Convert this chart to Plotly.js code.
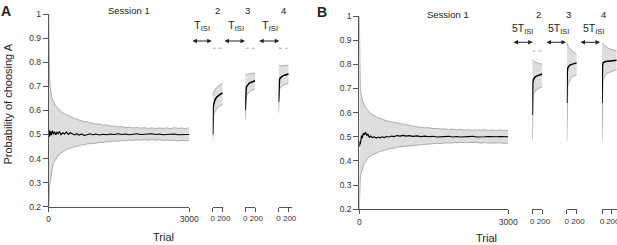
<!DOCTYPE html>
<html><head><meta charset="utf-8">
<script src="https://cdn.plot.ly/plotly-3.0.1.min.js"></script>
<style>html,body{margin:0;padding:0;background:#fff}#c{width:617px;height:245px}</style>
</head><body><div id="c"></div>
<script>
// ---------- DATA ----------
const s1Trials = [0,5,10,20,30,45,60,80,100,125,150,175,200,230,260,300,340,380,420,460,500,550,600,650,700,760,820,880,940,1000,1080,1160,1240,1320,1400,1480,1560,1640,1720,1800,1880,1960,2040,2120,2200,2280,2360,2440,2520,2600,2680,2760,2840,2920,3000];
const A1upper = [1.0,0.84,0.78,0.74,0.70,0.675,0.66,0.645,0.636,0.63,0.618,0.614,0.606,0.603,0.594,0.59,0.586,0.581,0.579,0.572,0.57,0.566,0.563,0.56,0.558,0.553,0.553,0.548,0.547,0.543,0.543,0.538,0.539,0.534,0.535,0.531,0.533,0.529,0.530,0.527,0.529,0.526,0.528,0.525,0.527,0.524,0.527,0.525,0.527,0.524,0.528,0.525,0.527,0.524,0.528];
const A1lower = [0.2,0.25,0.27,0.285,0.30,0.325,0.345,0.362,0.38,0.388,0.398,0.402,0.412,0.415,0.424,0.427,0.433,0.436,0.441,0.442,0.447,0.448,0.452,0.453,0.457,0.457,0.461,0.461,0.464,0.463,0.467,0.466,0.47,0.469,0.473,0.471,0.475,0.473,0.477,0.475,0.478,0.476,0.478,0.476,0.479,0.476,0.478,0.475,0.477,0.474,0.476,0.473,0.475,0.473,0.474];
const A1mean = [0.50,0.52,0.49,0.515,0.495,0.512,0.497,0.516,0.501,0.511,0.498,0.509,0.503,0.512,0.499,0.507,0.502,0.51,0.5,0.507,0.503,0.498,0.503,0.497,0.502,0.496,0.499,0.503,0.499,0.502,0.498,0.501,0.499,0.502,0.5,0.503,0.5,0.502,0.499,0.501,0.503,0.5,0.502,0.501,0.503,0.5,0.502,0.499,0.501,0.5,0.502,0.499,0.501,0.5,0.5];
const B1upper = [1.0,0.78,0.73,0.70,0.685,0.66,0.652,0.64,0.628,0.622,0.614,0.607,0.602,0.596,0.592,0.587,0.583,0.578,0.577,0.572,0.57,0.566,0.564,0.56,0.559,0.555,0.553,0.55,0.549,0.546,0.545,0.541,0.54,0.537,0.538,0.534,0.535,0.532,0.533,0.53,0.532,0.529,0.531,0.528,0.53,0.527,0.529,0.527,0.529,0.526,0.528,0.526,0.528,0.525,0.527];
const B1lower = [0.2,0.26,0.3,0.33,0.345,0.355,0.365,0.378,0.39,0.397,0.405,0.41,0.418,0.42,0.426,0.428,0.433,0.435,0.44,0.441,0.445,0.447,0.45,0.451,0.455,0.456,0.459,0.46,0.462,0.463,0.466,0.466,0.469,0.468,0.471,0.471,0.473,0.472,0.475,0.474,0.476,0.475,0.477,0.476,0.477,0.475,0.477,0.474,0.476,0.474,0.475,0.473,0.475,0.473,0.474];
const B1mean = [0.47,0.46,0.48,0.47,0.49,0.505,0.495,0.515,0.508,0.52,0.505,0.512,0.498,0.503,0.497,0.5,0.495,0.499,0.496,0.5,0.497,0.501,0.499,0.503,0.501,0.505,0.503,0.506,0.503,0.505,0.502,0.504,0.501,0.503,0.5,0.502,0.499,0.501,0.5,0.502,0.499,0.501,0.499,0.501,0.5,0.502,0.499,0.501,0.5,0.501,0.499,0.5,0.501,0.499,0.5];

const sTrials = [0,2,5,10,20,30,50,80,120,160,200];
const A2mean  = [0.50,0.55,0.59,0.61,0.625,0.633,0.645,0.655,0.663,0.668,0.672];
const A2upper = [0.66,0.663,0.667,0.67,0.675,0.68,0.687,0.695,0.702,0.707,0.712];
const A2lower = [0.47,0.50,0.54,0.563,0.58,0.588,0.598,0.607,0.615,0.62,0.625];
const A3mean  = [0.60,0.63,0.66,0.678,0.693,0.70,0.706,0.712,0.717,0.72,0.723];
const A3upper = [0.745,0.745,0.746,0.747,0.748,0.749,0.75,0.751,0.753,0.755,0.756];
const A3lower = [0.56,0.59,0.62,0.64,0.655,0.663,0.67,0.676,0.681,0.685,0.688];
const A4mean  = [0.635,0.67,0.70,0.718,0.728,0.733,0.738,0.742,0.746,0.749,0.751];
const A4upper = [0.79,0.789,0.788,0.787,0.786,0.785,0.785,0.785,0.786,0.786,0.787];
const A4lower = [0.59,0.62,0.65,0.672,0.685,0.692,0.698,0.703,0.707,0.71,0.712];
const B2mean  = [0.59,0.65,0.70,0.722,0.736,0.741,0.746,0.751,0.755,0.758,0.76];
const B2upper = [0.822,0.82,0.818,0.816,0.814,0.812,0.81,0.807,0.804,0.802,0.80];
const B2lower = [0.485,0.54,0.60,0.64,0.668,0.678,0.688,0.695,0.70,0.704,0.707];
const B3mean  = [0.64,0.70,0.745,0.77,0.785,0.79,0.795,0.799,0.802,0.804,0.806];
const B3upper = [0.89,0.888,0.886,0.883,0.878,0.874,0.868,0.86,0.852,0.846,0.84];
const B3lower = [0.48,0.56,0.63,0.68,0.71,0.72,0.732,0.742,0.75,0.755,0.758];
const B4Trials = [0,2,5,10,20,30,50,80,120,160,200,250,300];
const B4mean  = [0.64,0.72,0.77,0.795,0.805,0.808,0.81,0.812,0.813,0.814,0.815,0.816,0.817];
const B4upper = [0.89,0.889,0.888,0.886,0.884,0.882,0.878,0.873,0.868,0.864,0.861,0.858,0.855];
const B4lower = [0.48,0.57,0.65,0.70,0.73,0.74,0.75,0.758,0.764,0.768,0.771,0.774,0.777];

const yTickVals = [0.2,0.3,0.4,0.5,0.6,0.7,0.8,0.9,1];
const yTickText = ['0.2','0.3','0.4','0.5','0.6','0.7','0.8','0.9','1'];
const s1TickVals = [0,3000], s1TickText = ['0','3000'];
const sTickVals = [0,200], sTickText = ['0', '\u00a0200'];
const refLevelA = 0.858, refLevelB = 0.855;

// ---------- LAYOUT ----------
const W=617,H=245;
const px = v => v/W, py = v => 1 - v/H;
const FONT = '"Liberation Sans", Arial, Helvetica, sans-serif';
const BAND = '#dedede', EDGE = '#9c9c9c', AXC = '#555';

function band(x, lo, up, mean, xa, ya, mw){
  return [
    {x:x, y:lo, xaxis:xa, yaxis:ya, mode:'lines', line:{color:EDGE,width:0.8}, hoverinfo:'skip'},
    {x:x, y:up, xaxis:xa, yaxis:ya, mode:'lines', fill:'tonexty', fillcolor:BAND, line:{color:EDGE,width:0.8}, hoverinfo:'skip'},
    {x:x, y:mean, xaxis:xa, yaxis:ya, mode:'lines', line:{color:'#000',width:mw}, hoverinfo:'skip'}
  ];
}
const data = [].concat(
  band(s1Trials, A1lower, A1upper, A1mean, 'x', 'y', 1.1),
  band(sTrials, A2lower, A2upper, A2mean, 'x2', 'y', 1.5),
  band(sTrials, A3lower, A3upper, A3mean, 'x3', 'y', 1.5),
  band(sTrials, A4lower, A4upper, A4mean, 'x4', 'y', 1.5),
  band(s1Trials, B1lower, B1upper, B1mean, 'x5', 'y2', 1.1),
  band(sTrials, B2lower, B2upper, B2mean, 'x6', 'y2', 1.5),
  band(sTrials, B3lower, B3upper, B3mean, 'x7', 'y2', 1.5),
  band(B4Trials, B4lower, B4upper, B4mean, 'x8', 'y2', 1.5)
);

const tickFont = {family:FONT, size:8.5, color:'#333'};
const sTickFont = {family:FONT, size:8, color:'#333'};
function xax(dom, range, tv, tt, anchor, tf){
  return {domain:dom, range:range, anchor:anchor, showline:true, linecolor:AXC, linewidth:1,
    ticks:'outside', ticklen:4, tickcolor:AXC, tickwidth:1, tickvals:tv, ticktext:tt,
    tickfont:tf||tickFont, tickangle:0, showgrid:false, zeroline:false, automargin:false, ticklabeloverflow:'allow', fixedrange:true};
}
function yax(dom, anchor){
  return {domain:dom, range:[0.2,1], anchor:anchor, showline:true, linecolor:AXC, linewidth:1,
    ticks:'outside', ticklen:5, tickcolor:AXC, tickwidth:1, tickvals:yTickVals, ticktext:yTickText,
    tickfont:tickFont, showgrid:false, zeroline:false, automargin:false, fixedrange:true};
}

const layout = {
  width:W, height:H, margin:{l:0,r:0,t:0,b:0,pad:0},
  paper_bgcolor:'#fff', plot_bgcolor:'rgba(0,0,0,0)', showlegend:false,
  font:{family:FONT, color:'#222'},
  yaxis: yax([1-206.7/H, 1-14/H], 'x'),
  yaxis2: yax([1-209.3/H, 1-16/H], 'x5'),
  xaxis:  xax([px(48.7), px(189.3)], [0,3000], s1TickVals, s1TickText, 'y'),
  xaxis2: xax([px(212.7), px(222.7)], [0,200], sTickVals, sTickText, 'y', sTickFont),
  xaxis3: xax([px(245.2), px(255.2)], [0,200], sTickVals, sTickText, 'y', sTickFont),
  xaxis4: xax([px(278.5), px(292)], [0,270], sTickVals, sTickText, 'y', sTickFont),
  xaxis5: xax([px(359.3), px(508.3)], [0,3000], s1TickVals, s1TickText, 'y2'),
  xaxis6: xax([px(532.3), px(542.3)], [0,200], sTickVals, sTickText, 'y2', sTickFont),
  xaxis7: xax([px(566.8), px(576.8)], [0,200], sTickVals, sTickText, 'y2', sTickFont),
  xaxis8: xax([px(602), 1], [0,309], sTickVals, sTickText, 'y2', sTickFont),
  shapes: [
    {type:'line', xref:'x2', yref:'y', x0:0, x1:190, y0:refLevelA, y1:refLevelA, line:{color:'#aaa', width:1, dash:'dot'}},
    {type:'line', xref:'x3', yref:'y', x0:10, x1:200, y0:refLevelA, y1:refLevelA, line:{color:'#aaa', width:1, dash:'dot'}},
    {type:'line', xref:'x4', yref:'y', x0:10, x1:180, y0:refLevelA, y1:refLevelA, line:{color:'#aaa', width:1, dash:'dot'}},
    {type:'line', xref:'x6', yref:'y2', x0:0, x1:200, y0:refLevelB, y1:refLevelB, line:{color:'#aaa', width:1, dash:'dot'}}
  ],
  annotations: []
};
const A = layout.annotations;
function txt(t, x, y, size, opts){
  A.push(Object.assign({text:t, xref:'paper', yref:'paper', x:px(x), y:py(y), xanchor:'center', yanchor:'middle',
    showarrow:false, font:{family:FONT, size:size, color:'#222'}}, opts||{}));
}
function dblArrow(x0, x1, y){
  A.push({text:'', xref:'paper', yref:'paper', x:px(x1), y:py(y), ax:-(x1-x0), ay:0,
    showarrow:true, arrowside:'end+start', arrowhead:2, arrowsize:0.9, arrowwidth:1, arrowcolor:'#222',
    standoff:0, startstandoff:0});
}
txt('<b>A</b>', 6, 11, 14);
txt('<b>B</b>', 322, 12, 14);
txt('Session 1', 129, 10, 9.5);
txt('Session 1', 448, 14, 9.5);
txt('2', 217, 10, 9.5); txt('3', 247, 10, 9.5); txt('4', 283, 10, 9.5);
txt('2', 538, 14.5, 9.5); txt('3', 568, 14.5, 9.5); txt('4', 603, 14.5, 9.5);
txt('T<sub>ISI</sub>', 201.5, 26, 11); txt('T<sub>ISI</sub>', 236, 26, 11); txt('T<sub>ISI</sub>', 269.5, 26, 11);
txt('5T<sub>ISI</sub>', 522, 29, 10.5); txt('5T<sub>ISI</sub>', 558.5, 29, 10.5); txt('5T<sub>ISI</sub>', 593, 29, 10.5);
dblArrow(191, 211.7, 41); dblArrow(223, 245, 41); dblArrow(257.7, 279.3, 41);
dblArrow(512, 532.7, 42.3); dblArrow(545, 566, 42.3); dblArrow(579, 600, 42.3);
txt('Trial', 163, 237, 11);
txt('Trial', 487, 237.5, 11);
txt('Probability of choosing A', 7.5, 104, 11, {textangle:-90});

Plotly.newPlot('c', data, layout, {staticPlot:true, displayModeBar:false});
</script></body></html>
